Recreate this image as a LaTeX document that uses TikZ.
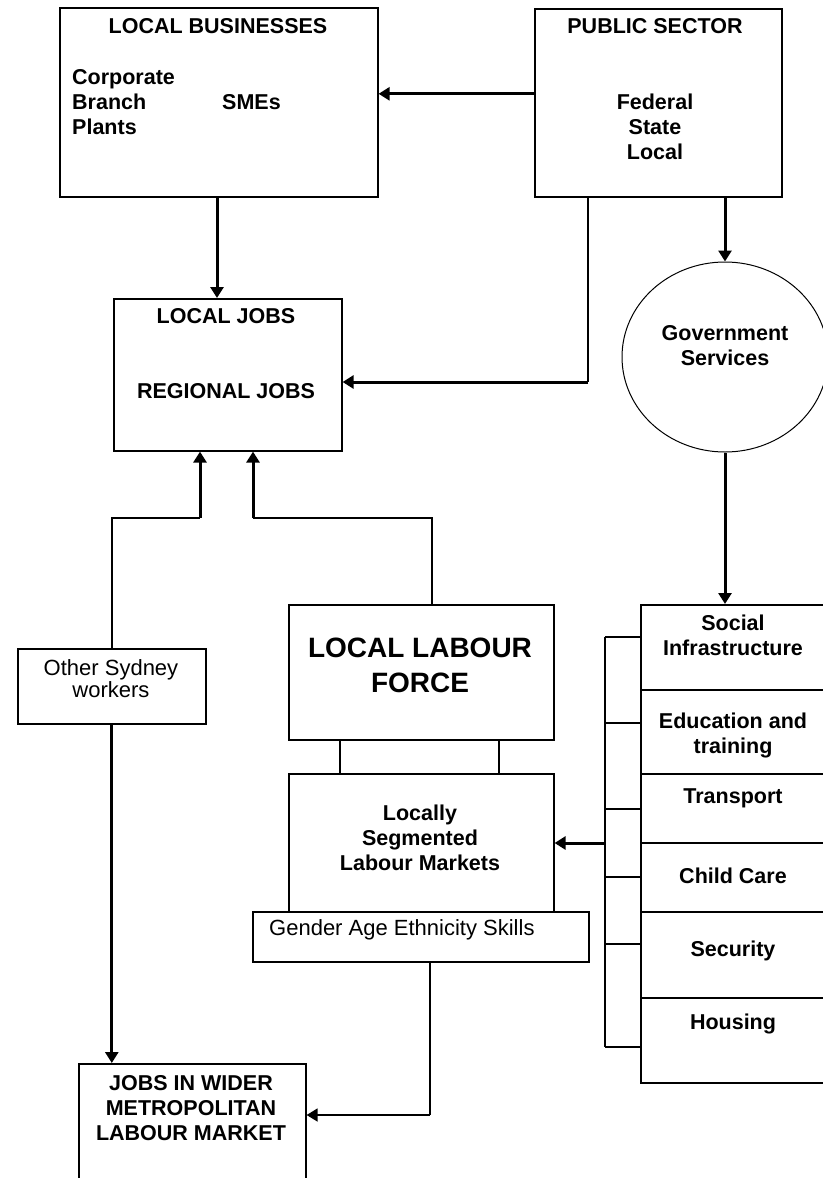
\documentclass[tikz,border=0pt]{standalone}
\usepackage{fontspec}
\setmainfont{Liberation Sans}
\usetikzlibrary{arrows.meta,shapes.geometric}

\begin{document}
\begin{tikzpicture}[x=1pt, y=-1pt,
    box/.style={draw, line width=1.6pt, anchor=north west, inner sep=0pt},
    link/.style={line width=1.6pt},
    arr/.style={line width=3pt, -{Triangle[length=11pt,width=13pt]}},
    arrthin/.style={line width=1.6pt, -{Triangle[length=11pt,width=13pt]}},
    hd/.style={font=\bfseries\fontsize{21.5}{25}\selectfont, align=center, inner sep=0pt},
    big/.style={font=\bfseries\fontsize{28}{35}\selectfont, align=center, inner sep=0pt},
    plain/.style={font=\fontsize{22}{22}\selectfont, align=center, inner sep=0pt}]

    \useasboundingbox (0,0) rectangle (822,1178);

    % Businesses and public sector
    \node[box, minimum width=318pt, minimum height=189pt] (biz) at (59,7) {};
    \node[hd] (biztitle) at (218,26) {LOCAL BUSINESSES};
    \node[hd, align=left, anchor=west] (bizcorp) at (72,102) {Corporate\\Branch\\Plants};
    \node[hd, anchor=west] (bizsme) at (222,102) {SMEs};

    \node[box, minimum width=247pt, minimum height=188pt] (pub) at (534,8) {};
    \node[hd] (pubtitle) at (655,26) {PUBLIC SECTOR};
    \node[hd] (publevels) at (655,127) {Federal\\State\\Local};

    % Jobs
    \node[box, minimum width=228pt, minimum height=152pt] (ljobs) at (113,298) {};
    \node[hd] (ljobstitle) at (226,316) {LOCAL JOBS};
    \node[hd] (rjobstitle) at (226,391) {REGIONAL JOBS};

    \node[draw, ellipse, line width=1pt, minimum width=206pt, minimum height=190pt, inner sep=0pt] (gov) at (725,357) {};
    \node[hd] (govtxt) at (725,346) {Government\\Services};

    % Labour force
    \node[box, minimum width=188pt, minimum height=75pt] (osw) at (17,648) {};
    \node[plain] (oswtxt) at (111,679) {Other Sydney\\workers};
    \node[box, minimum width=265pt, minimum height=135pt] (llf) at (288,604) {};
    \node[big] (llftxt) at (420,665) {LOCAL LABOUR\\FORCE};
    \node[box, minimum width=265pt, minimum height=138pt] (lsm) at (288,773) {};
    \node[hd] (lsmtxt) at (420,838) {Locally\\Segmented\\Labour Markets};
    \node[box, minimum width=336pt, minimum height=50pt] (gender) at (252,911) {};
    \node[plain, anchor=west] (gendertxt) at (269,930) {Gender Age Ethnicity Skills};

    \node[box, minimum width=227pt, minimum height=130pt] (wider) at (78,1063) {};
    \node[hd] (widertxt) at (191,1108) {JOBS IN WIDER\\METROPOLITAN\\LABOUR MARKET};

    % Social infrastructure column with bracket
    \foreach \n/\top/\bot/\ty/\tick/\txt in {
        1/604/689/635/637/{Social\\Infrastructure},
        2/689/773/735/723/{Education and\\training},
        3/773/842/798/809/{Transport},
        4/842/911/876/877/{Child Care},
        5/911/997/951/944/{Security},
        6/997/1082/1024/1047/{Housing}} {
        \node[box, minimum width=190pt, minimum height={(\bot-\top)*1pt}] (col\n) at (640,\top) {};
        \node[hd] (coltxt\n) at (733,\ty) {\txt};
        \coordinate (tick\n) at (605,\tick);
        \draw[link] (tick\n) -- (tick\n -| col\n.west);
    }
    \draw[link] (tick1) -- (tick6);

    % Connectors
    \coordinate (pubdrop) at (588,382);
    \coordinate (oswup) at (200,518);
    \coordinate (llfup) at (253,518);
    \coordinate (colout) at (605,843);
    \coordinate (genderdrop) at (430,1115);

    \draw[arr] ([yshift=9pt]pub.west) -- ([yshift=9pt]pub.west -| biz.east);
    \draw[arr] (biz.south -| 217,0) -- (ljobs.north -| 217,0);
    \draw[link] (pub.south -| pubdrop) -- (pubdrop);
    \draw[arr] (pubdrop) -- (pubdrop -| ljobs.east);
    \draw[arr] (pub.south -| gov.north) -- (gov.north);
    \draw[arr] (gov.south) -- (gov.south |- col1.north);

    \draw[link] (osw.north) |- (oswup);
    \draw[arr] (oswup) -- (oswup |- ljobs.south);
    \draw[link] ([xshift=144pt]llf.north west) |- (llfup);
    \draw[arr] (llfup) -- (llfup |- ljobs.south);

    \draw[link] ([xshift=52pt]llf.south west) -- ([xshift=52pt]lsm.north west);
    \draw[link] ([xshift=-55.5pt]llf.south east) -- ([xshift=-55.5pt]lsm.north east);

    \draw[arr] (colout) -- (colout -| lsm.east);
    \draw[arr] (osw.south) -- (osw.south |- wider.north);
    \draw[link] (gender.south -| genderdrop) -- (genderdrop);
    \draw[arrthin] (genderdrop) -- (genderdrop -| wider.east);
\end{tikzpicture}
\end{document}
